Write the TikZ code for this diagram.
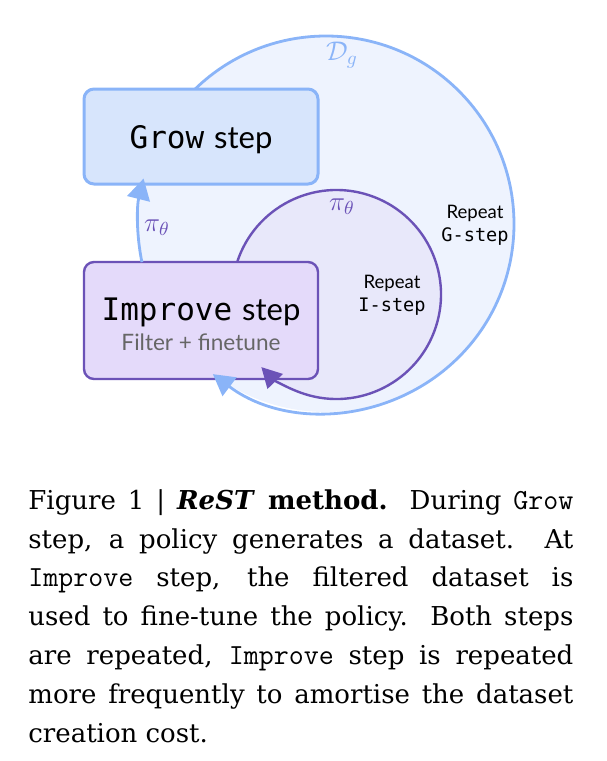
\RequirePackage{fix-cm}
\documentclass[tikz,border=0pt]{standalone}
\usepackage{fontspec}
\setmainfont{DejaVu Serif}
\setsansfont{Lato}
\setmonofont{Latin Modern Mono}[Scale=1.12]
\newfontfamily\dmono{DejaVu Sans Mono}
\usetikzlibrary{arrows.meta}
\definecolor{gblue}{HTML}{8AB4F8}
\definecolor{gfill}{HTML}{D7E5FC}
\definecolor{gbg}{HTML}{EEF3FE}
\definecolor{ipurple}{HTML}{6B52B7}
\definecolor{ifill}{HTML}{E4DAFA}
\definecolor{ibg}{HTML}{E8E8FA}
\definecolor{subgray}{HTML}{666666}
\tikzset{
  stepbox/.style={rounded corners=5pt, minimum width=117pt, align=center, inner sep=0pt},
  gloop/.style={draw=gblue, line width=1.4pt, -{Triangle[width=11.5pt,length=10.5pt]}},
  iloop/.style={draw=ipurple, line width=1.2pt, -{Triangle[width=10.5pt,length=10pt]}},
  looplabel/.style={font=\sffamily\fontsize{9.3}{11.5}\selectfont, align=center},
  mathlabel/.style={font=\fontsize{13.5}{15}\selectfont},
}
\begin{document}
\begin{tikzpicture}[x=0.5pt,y=0.5pt]
  \useasboundingbox (0,0) rectangle (606,-761);
  \coordinate (gc) at (326,-224);
  \coordinate (ic) at (336.5,-294.5);
  \fill[gbg] (gc) circle[radius=188];
  \fill[ibg] (ic) circle[radius=104.5];
  \node[stepbox, draw=gblue, fill=gfill, line width=1.5pt, minimum height=47.5pt, text depth=0pt] (grow) at (201,-136.5)
    {\fontsize{15.5}{18}\selectfont{\dmono Grow} \sffamily step};
  \node[stepbox, draw=ipurple, fill=ifill, line width=1.2pt, minimum height=58.5pt] (improve) at (201,-320.5)
    {{\fontsize{15.5}{18}\selectfont\rule{0pt}{15pt}{\dmono Improve} \sffamily step}\\[3pt]
     {\color{subgray}\sffamily\fontsize{11.3}{13}\selectfont Filter + finetune}};
  \draw[gloop] ([shift={(191.7:188)}]gc) arc[start angle=191.7, end angle=166, radius=188];
  \draw[gloop] ([shift={(134:188)}]gc) arc[start angle=134, end angle=-127, radius=188];
  \draw[iloop] ([shift={(162:104.5)}]ic) arc[start angle=162, end angle=-136, radius=104.5];
  \node[mathlabel, text=gblue] (dg) at (342,-55) {$\mathcal{D}_g$};
  \node[mathlabel, text=ipurple] (pig) at (157,-228) {$\pi_\theta$};
  \node[mathlabel, text=ipurple] (pii) at (342,-207) {$\pi_\theta$};
  \node[looplabel] (repg) at (475,-225) {Repeat\\{\dmono G-step}};
  \node[looplabel] (repi) at (392,-295) {Repeat\\{\dmono I-step}};
  \node[anchor=north west, text width=272.5pt, align=justify, inner sep=0pt,
    font=\fontsize{13}{19.4}\selectfont] (caption) at (28,-489)
    {Figure 1 | \textbf{\textit{ReST} method.} During \texttt{Grow}\linebreak
     step, a policy generates a dataset. At\linebreak
     \texttt{Improve} step, the filtered dataset is\linebreak
     used to fine-tune the policy. Both steps\linebreak
     are repeated, \texttt{Improve} step is repeated\linebreak
     more frequently to amortise the dataset\linebreak
     creation cost.};
\end{tikzpicture}
\end{document}
